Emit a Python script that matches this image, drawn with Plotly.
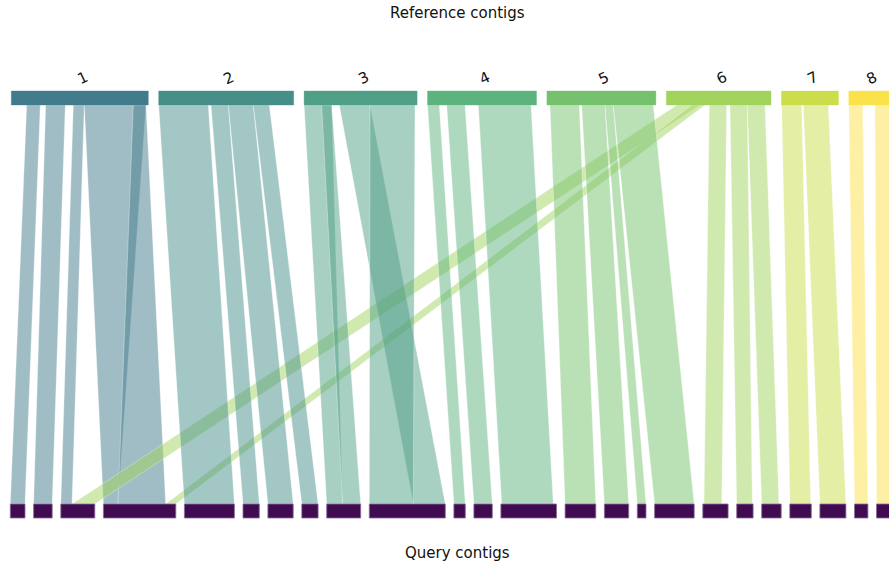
import plotly.graph_objects as go

# ---------------- data ----------------
ref_names = ["1", "2", "3", "4", "5", "6", "7", "8"]
ref_lengths = [137, 135, 113, 109, 109, 104.7, 57, 41]
ref_colors = ["#417b8c", "#468f89", "#4f9f86", "#5db37e",
              "#76c16d", "#a1d35d", "#cbdd4b", "#fbe24a"]

query_lengths = [14.7, 18.6, 34, 72.4, 50, 16.3, 25.3, 16.3, 34, 76, 11.4, 18.4,
                 55.6, 30.7, 24.3, 8.7, 39.6, 25.3, 16.4, 19.5, 21.5, 26, 13.4, 20]
query_color = "#400b50"

# alignments: ref contig index, ref start, ref end, query index, query start, query end
aln_ref = [0, 0, 0, 0, 0, 5, 5,
           1, 1, 1, 1,
           2, 2, 2, 2,
           3, 3, 3,
           4, 4, 4, 4,
           5, 5, 5,
           6, 6,
           7, 7]
aln_rs = [15.4, 34.4, 62.0, 73.0, 122.0, 10.7, 25.7,
          0.0, 52.3, 69.6, 94.6,
          0.0, 17.6, 35.2, 65.9,
          0.0, 19.2, 50.8,
          3.1, 34.8, 58.1, 66.4,
          43.0, 63.7, 81.0,
          0.3, 21.9,
          0.0, 26.2]
aln_re = [29.0, 54.0, 73.0, 134.7, 134.7, 33.7, 38.7,
          49.6, 69.6, 94.6, 110.6,
          27.6, 27.6, 65.9, 110.9,
          11.8, 37.5, 103.5,
          32.4, 58.1, 66.4, 106.4,
          60.4, 81.0, 98.7,
          20.3, 46.9,
          13.9, 41.0]
aln_q = [0, 1, 2, 3, 3, 2, 3,
         4, 5, 6, 7,
         8, 8, 9, 9,
         10, 11, 12,
         13, 14, 15, 16,
         17, 18, 19,
         20, 21,
         22, 23]
aln_qs = [0.0, 0.0, 0.0, 0.0, 14.6, 11.2, 62.3,
          0.0, 0.0, 0.0, 0.0,
          0.0, 16.0, 44.0, 0.0,
          0.0, 0.0, 0.8,
          0.0, 0.0, 0.0, 0.0,
          1.2, 0.0, 0.0,
          0.2, 0.0,
          0.0, 0.0]
aln_qe = [14.7, 18.6, 11.2, 14.6, 62.3, 34.0, 72.4,
          50.0, 16.3, 25.3, 16.3,
          16.0, 34.0, 76.0, 44.0,
          11.4, 18.4, 52.4,
          30.7, 24.3, 8.7, 39.6,
          18.9, 15.6, 17.3,
          20.9, 26.0,
          13.4, 20.0]

# ---------------- layout constants ----------------
W, H = 889, 563
REF_X0, REF_GAP = 11.3, 10.4
Q_X0, Q_GAP = 10.3, 8.6
REF_Y0, REF_Y1 = 91, 105
Q_Y0, Q_Y1 = 504, 518


def offsets(x0, lengths, gap):
    out = []
    x = x0
    for L in lengths:
        out.append(x)
        x += L + gap
    return out


ref_off = offsets(REF_X0, ref_lengths, REF_GAP)
q_off = offsets(Q_X0, query_lengths, Q_GAP)


def rgba(hexc, a):
    h = hexc.lstrip("#")
    r, g, b = int(h[0:2], 16), int(h[2:4], 16), int(h[4:6], 16)
    return f"rgba({r},{g},{b},{a})"


fig = go.Figure()

# ribbons
for i in range(len(aln_ref)):
    r = aln_ref[i]
    q = aln_q[i]
    rx0 = ref_off[r] + aln_rs[i]
    rx1 = ref_off[r] + aln_re[i]
    qx0 = q_off[q] + aln_qs[i]
    qx1 = q_off[q] + aln_qe[i]
    fig.add_trace(go.Scatter(
        x=[rx0, rx1, qx1, qx0, rx0],
        y=[REF_Y1, REF_Y1, Q_Y0, Q_Y0, REF_Y1],
        mode="lines", fill="toself",
        fillcolor=rgba(ref_colors[r], 0.5),
        line=dict(width=0.6, color="rgba(255,255,255,0.55)"),
        hoverinfo="skip", showlegend=False,
    ))

shapes = []
# reference contigs
for i, L in enumerate(ref_lengths):
    shapes.append(dict(type="rect", xref="x", yref="y",
                       x0=ref_off[i], x1=ref_off[i] + L, y0=REF_Y0, y1=REF_Y1,
                       fillcolor=ref_colors[i],
                       line=dict(width=0.6, color=rgba(ref_colors[i], 0.6)),
                       layer="above"))
# query contigs
for i, L in enumerate(query_lengths):
    shapes.append(dict(type="rect", xref="x", yref="y",
                       x0=q_off[i], x1=q_off[i] + L, y0=Q_Y0, y1=Q_Y1,
                       fillcolor=query_color,
                       line=dict(width=0.8, color="#8a6c99"),
                       layer="above"))

annotations = []
for i, name in enumerate(ref_names):
    annotations.append(dict(x=ref_off[i] + ref_lengths[i] / 2 + 3, y=78,
                            xref="x", yref="y", text=name, showarrow=False,
                            textangle=-25,
                            font=dict(family="DejaVu Sans", size=15, color="#111111")))
annotations.append(dict(x=457, y=13, xref="x", yref="y", text="Reference contigs",
                        showarrow=False,
                        font=dict(family="DejaVu Sans", size=15, color="#111111")))
annotations.append(dict(x=457, y=553, xref="x", yref="y", text="Query contigs",
                        showarrow=False,
                        font=dict(family="DejaVu Sans", size=15, color="#111111")))

fig.update_layout(
    width=W, height=H,
    margin=dict(l=0, r=0, t=0, b=0),
    paper_bgcolor="white", plot_bgcolor="white",
    xaxis=dict(range=[0, W], visible=False, fixedrange=True),
    yaxis=dict(range=[H, 0], visible=False, fixedrange=True),
    shapes=shapes, annotations=annotations,
    showlegend=False,
)

fig.write_html("out.html",
               config={"displayModeBar": False, "staticPlot": True},
               post_script="document.body.style.margin='0';document.body.style.overflow='hidden';")
